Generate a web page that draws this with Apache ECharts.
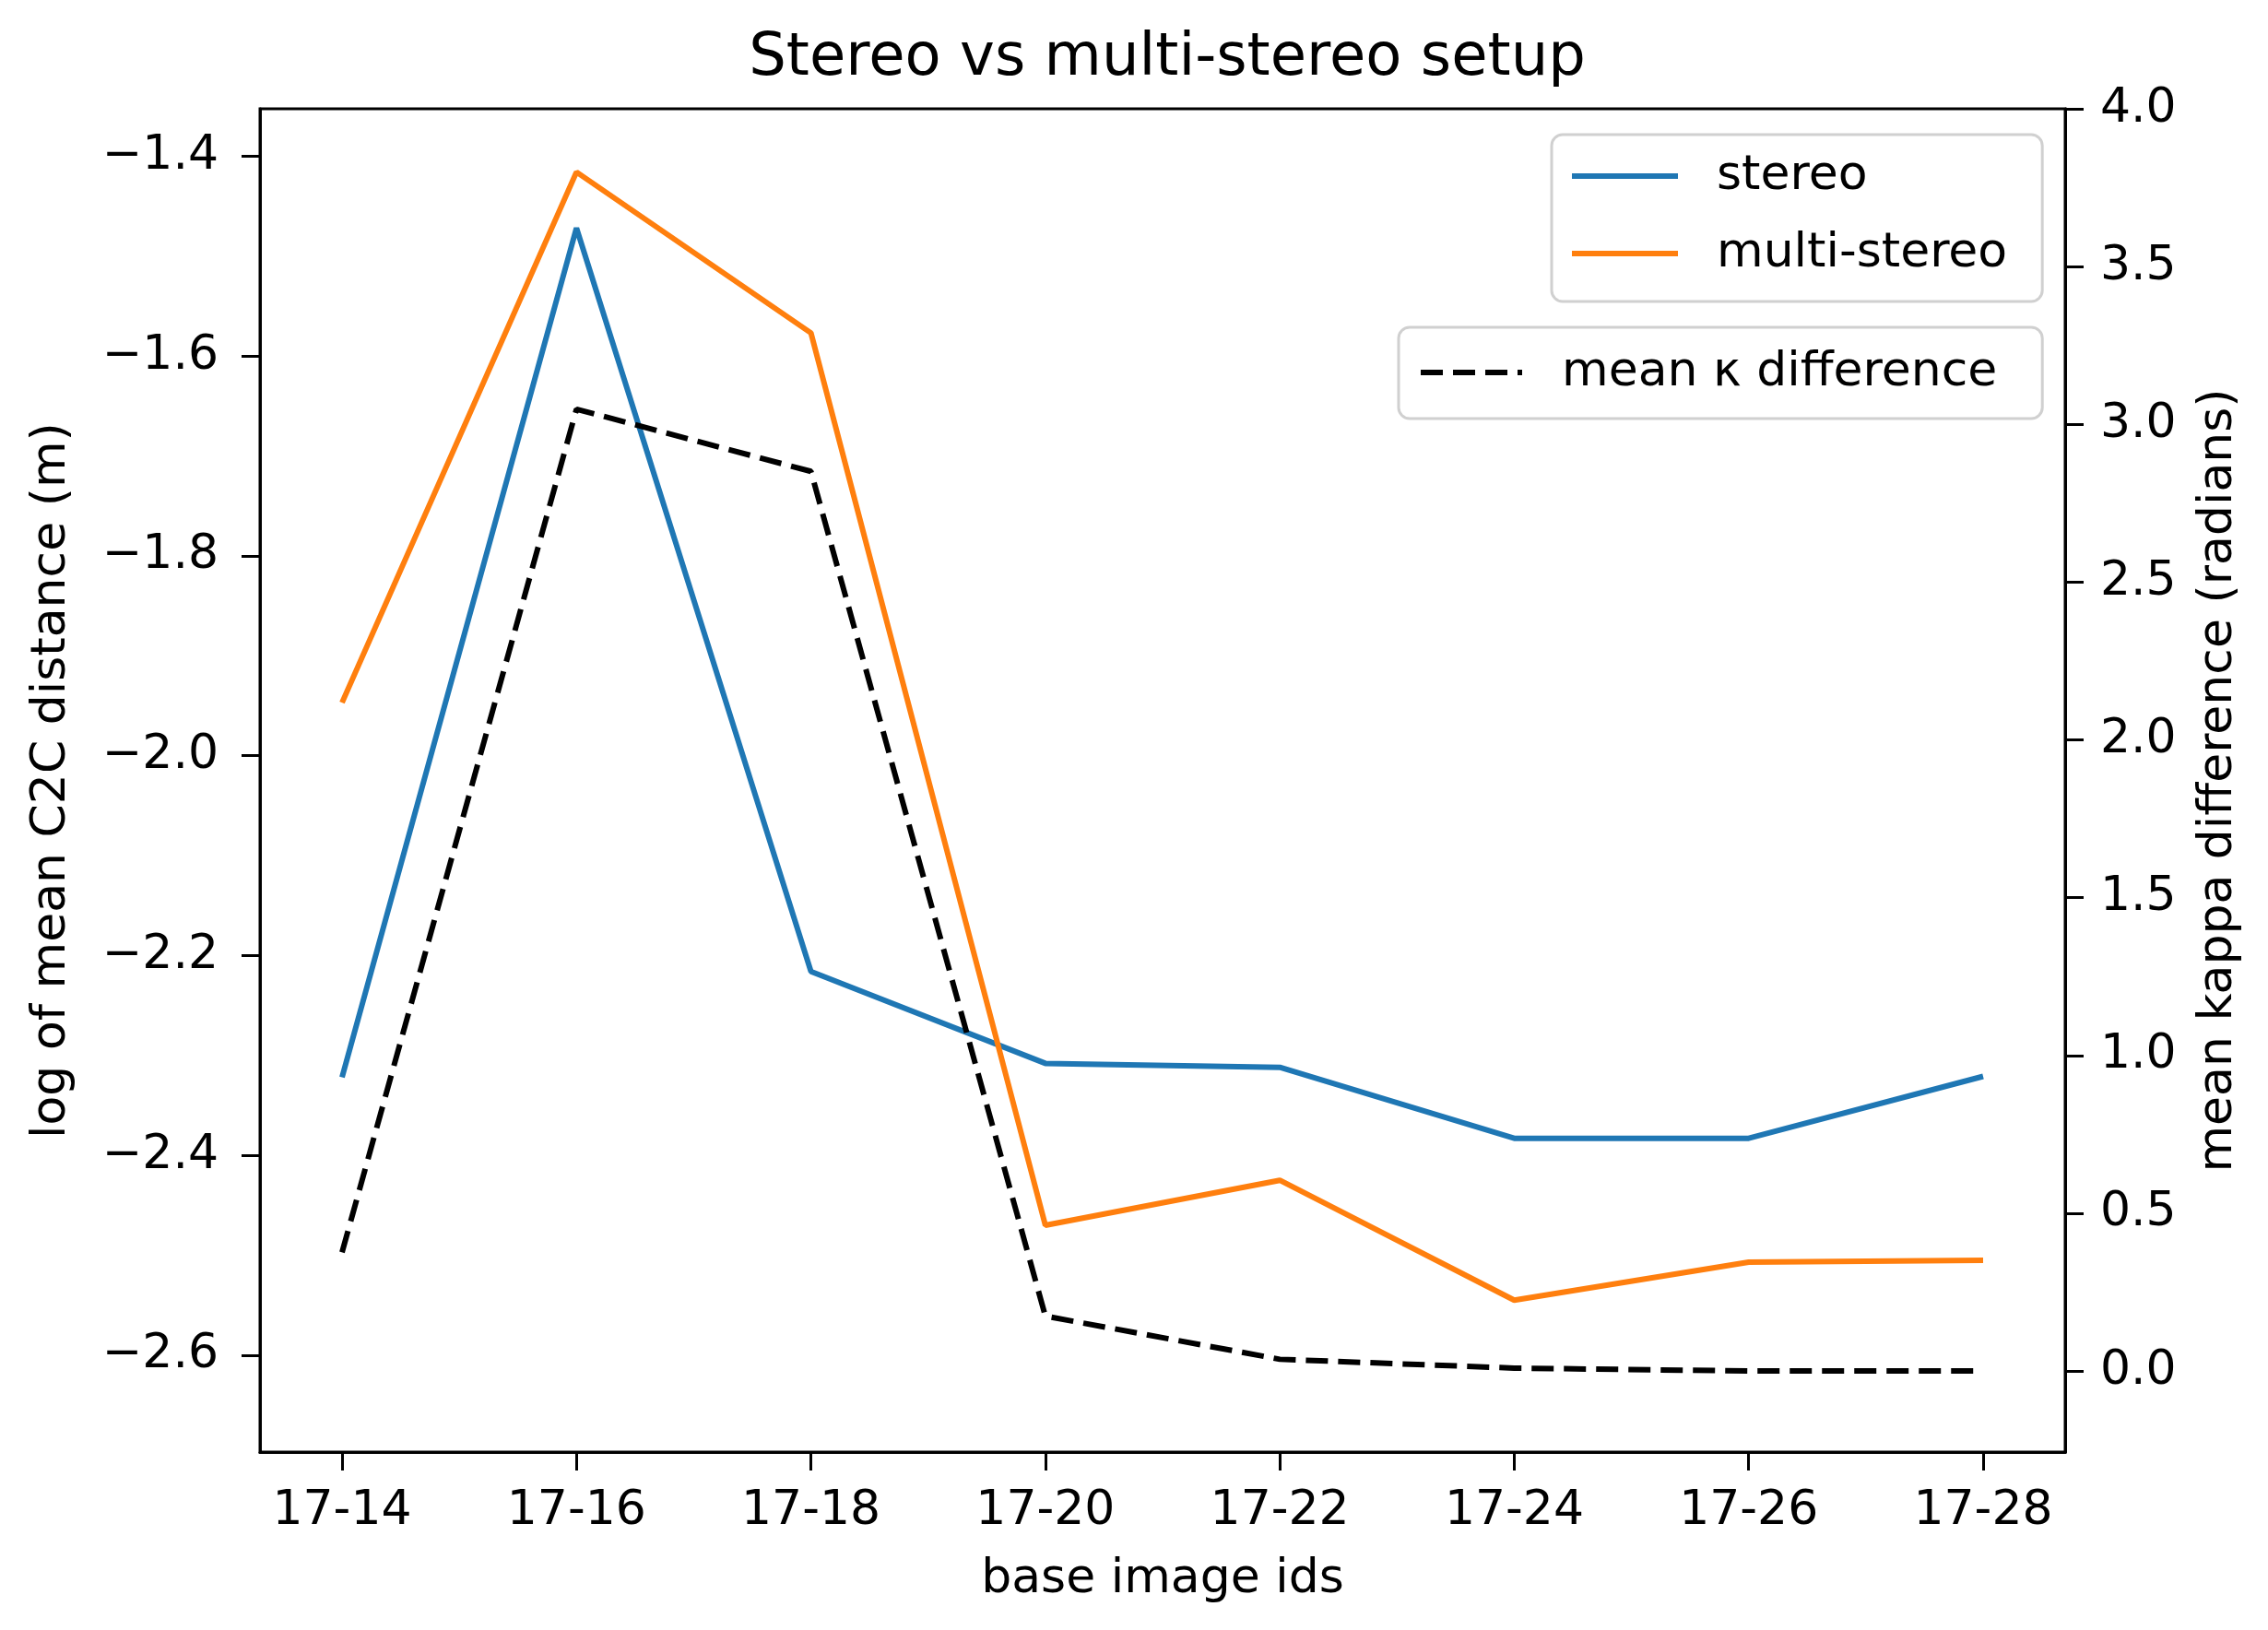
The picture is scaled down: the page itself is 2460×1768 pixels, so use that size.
<!DOCTYPE html>
<html>
<head>
<meta charset="utf-8">
<script src="https://cdn.jsdelivr.net/npm/echarts@6/dist/echarts.min.js"></script>
<style>
html,body{margin:0;padding:0;background:#fff;}
#c{width:2460px;height:1768px;}
</style>
</head>
<body>
<div id="c"></div>
<script>
const categories = ['17-14','17-16','17-18','17-20','17-22','17-24','17-26','17-28'];
const stereo = [-2.322, -1.472, -2.216, -2.308, -2.312, -2.383, -2.383, -2.321];
const multiStereo = [-1.947, -1.416, -1.577, -2.470, -2.425, -2.545, -2.507, -2.505];
const kappaDiff = [0.376, 3.048, 2.851, 0.174, 0.037, 0.009, 0.0, 0.0];
const leftTicks = [-2.6, -2.4, -2.2, -2.0, -1.8, -1.6, -1.4];
const rightTicks = [0.0, 0.5, 1.0, 1.5, 2.0, 2.5, 3.0, 3.5, 4.0];
const xTicks = categories.map((c, i) => i);

const FONT = 'DejaVu Sans';
const toPairs = arr => arr.map((v, i) => [i, v]);
const minus = s => String(s).replace('-', '\u2212');

const chart = echarts.init(document.getElementById('c'));
const axisLineStyle = {show: true, onZero: false, lineStyle: {color: '#000', width: 3}};
const tickStyle = {show: true, length: 20, lineStyle: {color: '#000', width: 3}};

chart.setOption({
  animation: false,
  backgroundColor: '#fff',
  textStyle: {fontFamily: FONT},
  title: {
    text: 'Stereo vs multi-stereo setup',
    left: 1261, textAlign: 'center', top: 27,
    textStyle: {fontFamily: FONT, fontSize: 64, fontWeight: 'normal', color: '#000'}
  },
  grid: {left: 282, right: 220, top: 118, bottom: 193, show: true, borderColor: '#000', borderWidth: 3, backgroundColor: 'transparent'},
  legend: [
    {
      data: ['stereo', 'multi-stereo'],
      orient: 'vertical', left: 1683, top: 146,
      itemWidth: 115, itemHeight: 30, itemGap: 24,
      padding: [15, 38, 22, 19],
      borderColor: '#d0d0d0', borderWidth: 3, borderRadius: 12,
      backgroundColor: 'rgba(255,255,255,0.8)',
      itemStyle: {opacity: 0},
      lineStyle: {width: 6},
      textStyle: {fontFamily: FONT, fontSize: 52, color: '#000', padding: [0, 0, 0, 37], lineHeight: 60}
    },
    {
      data: ['mean \u03ba difference'],
      orient: 'vertical', left: 1517, top: 355,
      itemWidth: 110, itemHeight: 30,
      padding: [19, 49, 20, 21],
      borderColor: '#d0d0d0', borderWidth: 3, borderRadius: 12,
      backgroundColor: 'rgba(255,255,255,0.8)',
      itemStyle: {opacity: 0},
      lineStyle: {width: 6},
      textStyle: {fontFamily: FONT, fontSize: 52, color: '#000', padding: [0, 0, 0, 38], lineHeight: 60}
    }
  ],
  xAxis: {
    type: 'value', min: -0.35, max: 7.35,
    name: 'base image ids', nameLocation: 'middle', nameGap: 112,
    nameTextStyle: {fontFamily: FONT, fontSize: 52, color: '#000'},
    axisLine: axisLineStyle,
    axisTick: Object.assign({customValues: xTicks}, tickStyle),
    axisLabel: {customValues: xTicks, margin: 38, fontFamily: FONT, fontSize: 52, color: '#000',
      formatter: v => categories[Math.round(v)] || ''},
    splitLine: {show: false}
  },
  yAxis: [
    {
      type: 'value', min: -2.697, max: -1.3527, position: 'left',
      name: 'log of mean C2C distance (m)', nameLocation: 'middle', nameGap: 200, nameRotate: 90,
      nameTextStyle: {fontFamily: FONT, fontSize: 52, color: '#000'},
      axisLine: axisLineStyle,
      axisTick: Object.assign({customValues: leftTicks}, tickStyle),
      axisLabel: {customValues: leftTicks, margin: 45, fontFamily: FONT, fontSize: 52, color: '#000',
        formatter: v => minus(v.toFixed(1))},
      splitLine: {show: false}
    },
    {
      type: 'value', min: -0.257, max: 4.0, position: 'right',
      name: 'mean kappa difference (radians)', nameLocation: 'middle', nameGap: 140, nameRotate: 90,
      nameTextStyle: {fontFamily: FONT, fontSize: 52, color: '#000'},
      axisLine: axisLineStyle,
      axisTick: Object.assign({customValues: rightTicks}, tickStyle),
      axisLabel: {customValues: rightTicks, margin: 38, fontFamily: FONT, fontSize: 52, color: '#000',
        formatter: v => minus(v.toFixed(1))},
      splitLine: {show: false}
    }
  ],
  series: [
    {
      name: 'stereo', type: 'line', yAxisIndex: 0, data: toPairs(stereo),
      symbol: 'none', color: '#1f77b4', lineStyle: {color: '#1f77b4', width: 6}
    },
    {
      name: 'multi-stereo', type: 'line', yAxisIndex: 0, data: toPairs(multiStereo),
      symbol: 'none', color: '#ff7f0e', lineStyle: {color: '#ff7f0e', width: 6}
    },
    {
      name: 'mean \u03ba difference', type: 'line', yAxisIndex: 1, data: toPairs(kappaDiff),
      symbol: 'none', color: '#000', lineStyle: {color: '#000', width: 6, type: [24, 11]}
    }
  ]
});
</script>
</body>
</html>
